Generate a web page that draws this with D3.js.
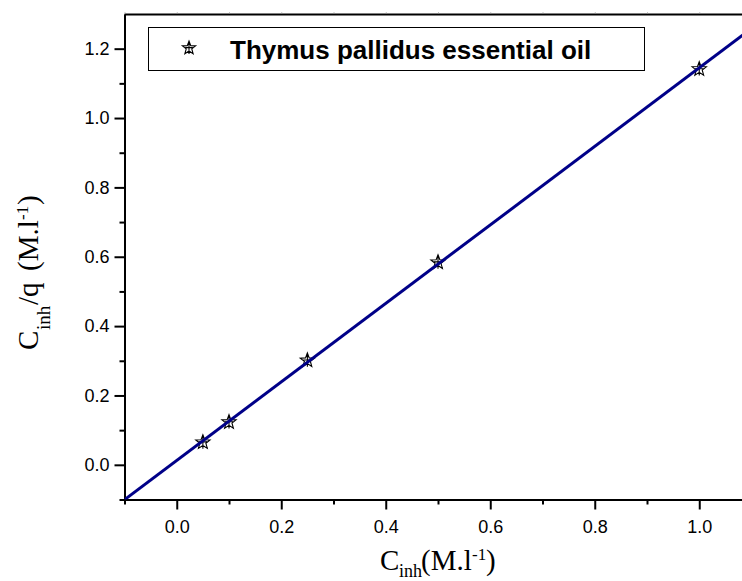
<!DOCTYPE html>
<html><head><meta charset="utf-8">
<script src="https://cdn.jsdelivr.net/npm/d3@7"></script>
<style>body{margin:0;background:#fff}svg{display:block}</style>
</head><body>
<svg id="chart" width="742" height="581"></svg>
<script>
const concentrations = [0.05, 0.10, 0.25, 0.50, 1.00];
const ratios = [0.065, 0.123, 0.301, 0.584, 1.141];
const fitSlope = 1.132;
const fitIntercept = 0.0127;
const xMajorTicks = [0.0, 0.2, 0.4, 0.6, 0.8, 1.0];
const xMinorTicks = [-0.1, 0.1, 0.3, 0.5, 0.7, 0.9, 1.1];
const yMajorTicks = [0.0, 0.2, 0.4, 0.6, 0.8, 1.0, 1.2];
const yMinorTicks = [-0.1, 0.1, 0.3, 0.5, 0.7, 0.9, 1.1];
const seriesName = "Thymus pallidus essential oil";

const svg = d3.select("#chart");
svg.append("rect").attr("width", 742).attr("height", 581).attr("fill", "#fff");

const x = d3.scaleLinear().domain([-0.1, 1.1]).range([124.5, 751.5]);
const y = d3.scaleLinear().domain([-0.1, 1.3]).range([499.5, 14]);
const fmt = d3.format(".1f");
const tickFont = "'Liberation Sans', Arial, sans-serif";

function styleAxis(g) {
  g.selectAll(".domain").attr("stroke", "#000").attr("stroke-width", 2);
  g.selectAll(".tick line").attr("stroke", "#000").attr("stroke-width", 2);
  g.selectAll(".tick text").attr("font-family", tickFont).attr("font-size", 18).attr("fill", "#000");
}

// bottom axis
const gxMinor = svg.append("g").attr("transform", "translate(0,499.5)")
  .call(d3.axisBottom(x).tickValues(xMinorTicks).tickSize(5).tickSizeOuter(0).tickFormat(""));
styleAxis(gxMinor);
const gx = svg.append("g").attr("transform", "translate(0,499.5)")
  .call(d3.axisBottom(x).tickValues(xMajorTicks).tickSize(10).tickSizeOuter(0).tickPadding(11).tickFormat(fmt));
styleAxis(gx);

// left axis
const gyMinor = svg.append("g").attr("transform", "translate(124.5,0)")
  .call(d3.axisLeft(y).tickValues(yMinorTicks).tickSize(5).tickSizeOuter(0).tickFormat(""));
styleAxis(gyMinor);
const gy = svg.append("g").attr("transform", "translate(124.5,0)")
  .call(d3.axisLeft(y).tickValues(yMajorTicks).tickSize(10).tickSizeOuter(0).tickPadding(5).tickFormat(fmt));
styleAxis(gy);

// top frame line with faint ticks
const gTop = svg.append("g").attr("transform", "translate(0,14)")
  .call(d3.axisTop(x).tickValues(xMajorTicks.concat(xMinorTicks)).tickSize(1.5).tickSizeOuter(0).tickFormat(""));
gTop.selectAll(".domain").attr("stroke", "#000").attr("stroke-width", 2);
gTop.selectAll(".tick line").attr("stroke", "#888").attr("stroke-width", 1);

// right frame (off-canvas mostly)
svg.append("line").attr("x1", x(1.1)).attr("x2", x(1.1)).attr("y1", y(1.3)).attr("y2", y(-0.1))
  .attr("stroke", "#000").attr("stroke-width", 2);

// clip
svg.append("clipPath").attr("id", "plotClip").append("rect")
  .attr("x", x(-0.1)).attr("y", y(1.3)).attr("width", x(1.1) - x(-0.1)).attr("height", y(-0.1) - y(1.3));

function starPath(R) {
  const p = d3.path();
  for (let i = 0; i < 10; i++) {
    const a = -Math.PI / 2 + i * Math.PI / 5;
    const rr = i % 2 ? R * 0.42 : R;
    const px = rr * Math.cos(a), py = rr * Math.sin(a);
    if (i === 0) p.moveTo(px, py); else p.lineTo(px, py);
  }
  p.closePath();
  p.moveTo(0, -R); p.lineTo(0, R * 0.85);
  p.moveTo(-R * 0.55, -R * 0.05); p.lineTo(R * 0.55, -R * 0.05);
  return p.toString();
}

// markers
const pts = concentrations.map((c, i) => ({ c, r: ratios[i] }));
svg.append("g").selectAll("path").data(pts).join("path")
  .attr("transform", d => `translate(${x(d.c)},${y(d.r)})`)
  .attr("d", starPath(7.5))
  .attr("fill", "none").attr("stroke", "#000").attr("stroke-width", 1.1);

// fit line
const fitX = x.domain();
svg.append("line").attr("clip-path", "url(#plotClip)")
  .attr("x1", x(fitX[0])).attr("y1", y(fitIntercept + fitSlope * fitX[0]))
  .attr("x2", x(fitX[1])).attr("y2", y(fitIntercept + fitSlope * fitX[1]))
  .attr("stroke", "#000088").attr("stroke-width", 3);

// legend
const lg = svg.append("g");
lg.append("rect").attr("x", 148.5).attr("y", 27.5).attr("width", 496).attr("height", 43)
  .attr("fill", "#fff").attr("stroke", "#000").attr("stroke-width", 1);
lg.append("path").attr("transform", "translate(189,48)").attr("d", starPath(7))
  .attr("fill", "none").attr("stroke", "#000").attr("stroke-width", 1.1);
lg.append("text").attr("x", 230).attr("y", 58.5)
  .attr("font-family", tickFont).attr("font-weight", "bold").attr("font-size", 26)
  .attr("fill", "#000").text(seriesName);

// axis titles
const serif = "'Liberation Serif', 'Times New Roman', serif";
function axisTitle(g, parts) {
  const t = g.append("text").attr("font-family", serif).attr("fill", "#000");
  parts.forEach(p => {
    t.append("tspan").attr("x", p.x).attr("y", p.y).attr("font-size", p.s).text(p.t);
  });
}
const xt = svg.append("g").attr("transform", "translate(380,570)");
axisTitle(xt, [
  { t: "C", x: 0, y: 0, s: 29 },
  { t: "inh", x: 19, y: 7, s: 18 },
  { t: "(M.l", x: 41, y: 0, s: 29 },
  { t: "-1", x: 92, y: -10, s: 17 },
  { t: ")", x: 106, y: 0, s: 29 }
]);
const yt = svg.append("g").attr("transform", "translate(38,350) rotate(-90)");
axisTitle(yt, [
  { t: "C", x: 0, y: 0, s: 29 },
  { t: "inh", x: 20, y: 12, s: 19 },
  { t: "/q", x: 45, y: 0, s: 29 },
  { t: "(M.l", x: 79, y: 0, s: 29 },
  { t: "-1", x: 130, y: -10, s: 17 },
  { t: ")", x: 145, y: 0, s: 29 }
]);
</script>
</body></html>
